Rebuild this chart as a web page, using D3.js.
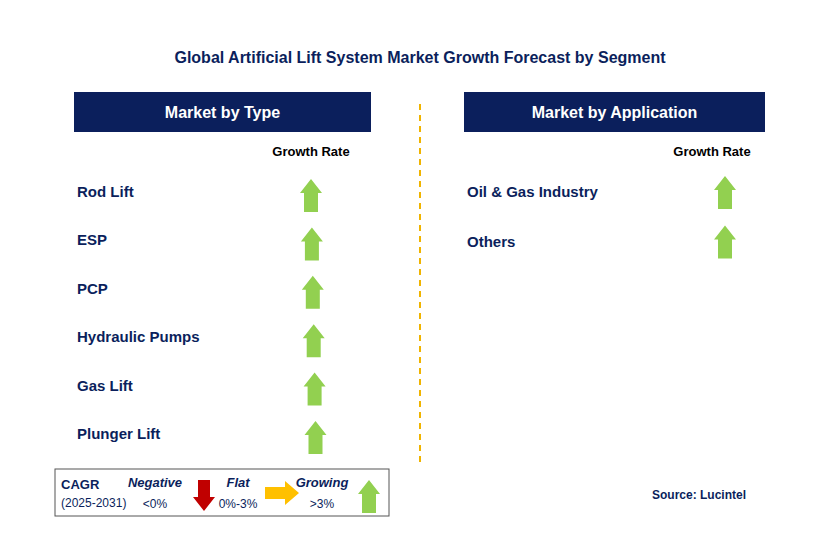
<!DOCTYPE html>
<html><head><meta charset="utf-8">
<script src="https://cdn.jsdelivr.net/npm/d3@7"></script>
<style>body{margin:0;background:#fff}text{font-family:Arial,"Liberation Sans",sans-serif}</style>
</head><body><svg id="c" width="829" height="544"></svg>
<script>
var typeNames = ["Rod Lift","ESP","PCP","Hydraulic Pumps","Gas Lift","Plunger Lift"];
var typeGrowth = ["Growing","Growing","Growing","Growing","Growing","Growing"];
var appNames = ["Oil & Gas Industry","Others"];
var appGrowth = ["Growing","Growing"];
var legendLabels = ["Negative","Flat","Growing"];
var legendRanges = ["<0%","0%-3%",">3%"];

var navy = "#0b1f5c", green = "#92d050";
var svg = d3.select("#c");

svg.append("text").attr("x",420).attr("y",63).attr("text-anchor","middle")
  .attr("font-size",16).attr("font-weight","bold").attr("fill",navy)
  .text("Global Artificial Lift System Market Growth Forecast by Segment");

// divider
svg.append("line").attr("x1",420).attr("x2",420).attr("y1",104).attr("y2",462)
  .attr("stroke","#f0b400").attr("stroke-width",2).attr("stroke-dasharray","6,5");

function upArrow(g, cx, top){
  // arrow 22 wide, 33 tall
  var p = [[cx,top],[cx+11,top+14],[cx+7,top+14],[cx+7,top+33],[cx-7,top+33],[cx-7,top+14],[cx-11,top+14]];
  g.append("path").attr("d", d3.line()(p)).attr("fill",green);
}

function panel(x0, w, title, names, growth, labelX, headX, arrowX, y0, step, arrowOff){
  svg.append("rect").attr("x",x0).attr("y",92).attr("width",w).attr("height",40).attr("fill",navy);
  svg.append("text").attr("x",x0+w/2).attr("y",118).attr("text-anchor","middle")
    .attr("font-size",16).attr("font-weight","bold").attr("fill","#fff").text(title);
  svg.append("text").attr("x",headX).attr("y",156).attr("text-anchor","middle")
    .attr("font-size",13).attr("font-weight","bold").attr("fill","#000").text("Growth Rate");
  var y = d3.scalePoint().domain(names).range([y0, y0 + step*(names.length-1)]);
  names.forEach(function(n,i){
    svg.append("text").attr("x",labelX).attr("y",y(n)+5).attr("font-size",15)
      .attr("font-weight","bold").attr("fill",navy).text(n);
    if (growth[i] === "Growing") upArrow(svg, arrowX + (names.length>2 ? i*0.9 : 0), y(n)+arrowOff);
  });
}
panel(74, 297, "Market by Type", typeNames, typeGrowth, 77, 311, 311, 192, 48.4, -13);
panel(464, 301, "Market by Application", appNames, appGrowth, 467, 712, 725, 192, 49.5, -16);

// legend
var lg = svg.append("g");
lg.append("rect").attr("x",55).attr("y",469).attr("width",334).attr("height",47)
  .attr("fill","#fff").attr("stroke","#555").attr("stroke-width",1);
lg.append("text").attr("x",61).attr("y",489).attr("font-size",13).attr("font-weight","bold").attr("fill",navy).text("CAGR");
lg.append("text").attr("x",61).attr("y",507).attr("font-size",12).attr("fill",navy).text("(2025-2031)");
var lx = d3.scaleOrdinal().domain(legendLabels).range([155,238,322]);
legendLabels.forEach(function(l,i){
  lg.append("text").attr("x",lx(l)).attr("y",487).attr("text-anchor","middle").attr("font-size",13)
    .attr("font-weight","bold").attr("font-style","italic").attr("fill",navy).text(l);
  lg.append("text").attr("x",lx(l)).attr("y",508).attr("text-anchor","middle").attr("font-size",12)
    .attr("fill",navy).text(legendRanges[i]);
});
// red down arrow
var dx=204, dt=480;
lg.append("path").attr("d",d3.line()([[dx-6,dt],[dx+6,dt],[dx+6,dt+17],[dx+11,dt+17],[dx,dt+31],[dx-11,dt+17],[dx-6,dt+17]])).attr("fill","#c00000");
// yellow right arrow
var rx=265, ry=493;
lg.append("path").attr("d",d3.line()([[rx,ry-6],[rx+20,ry-6],[rx+20,ry-12],[rx+34,ry],[rx+20,ry+12],[rx+20,ry+6],[rx,ry+6]])).attr("fill","#ffc000");
upArrow(lg, 369, 480);

svg.append("text").attr("x",652).attr("y",499).attr("font-size",12).attr("font-weight","bold")
  .attr("fill",navy).text("Source: Lucintel");
</script></body></html>
